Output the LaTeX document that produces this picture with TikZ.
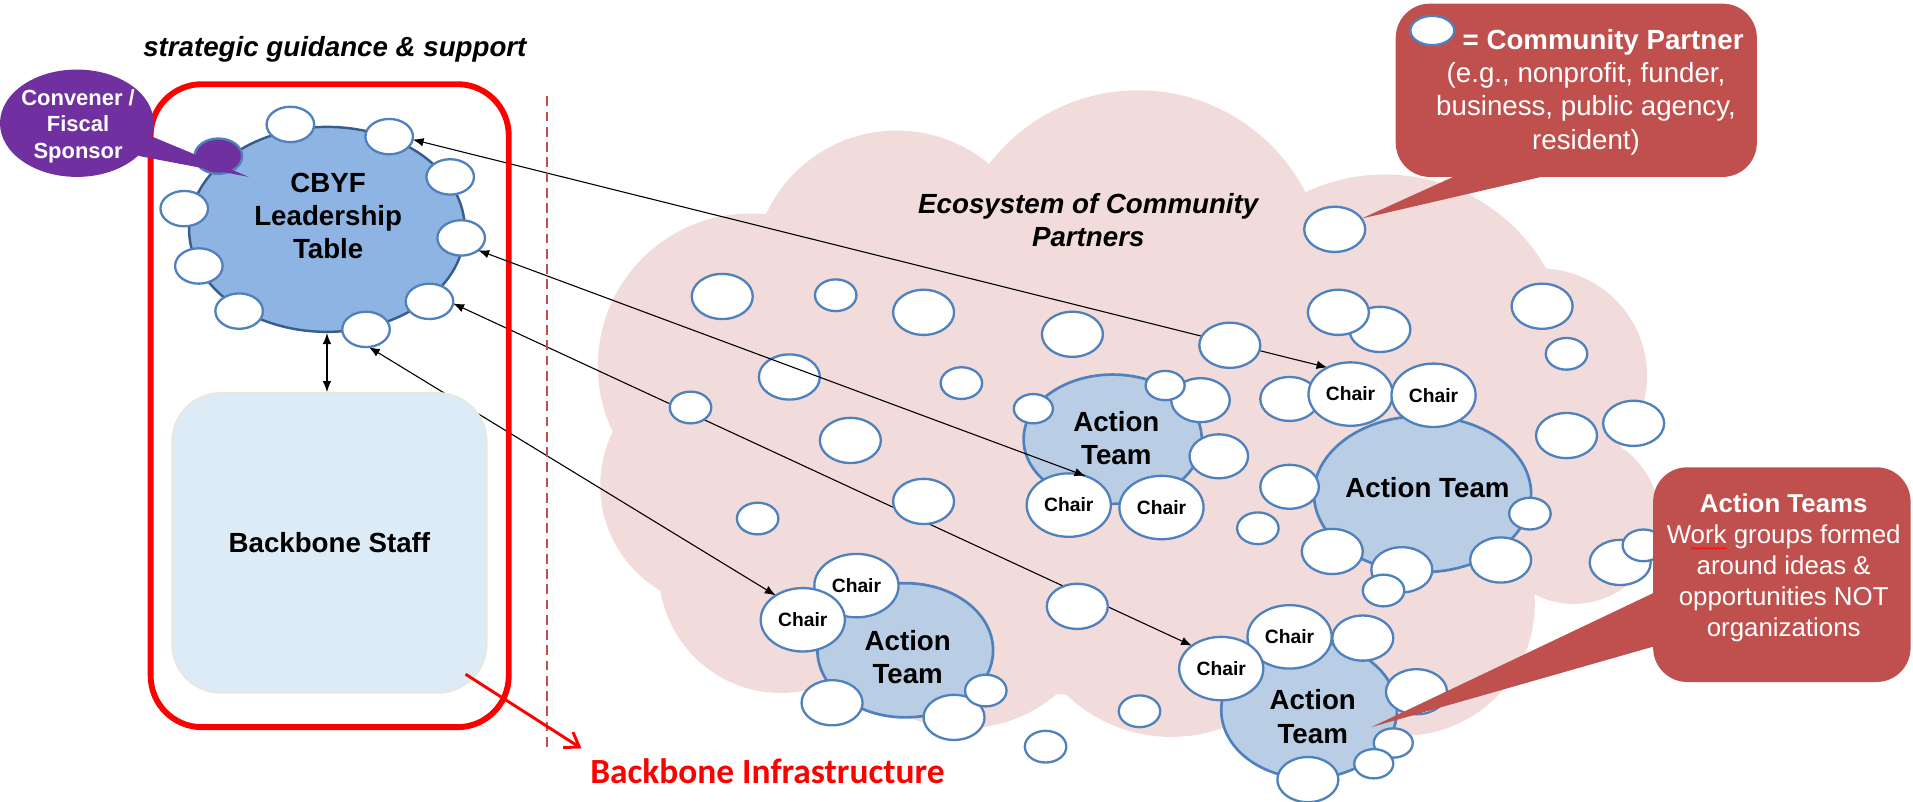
\documentclass[tikz,border=0pt]{standalone}
\usepackage{fontspec}
\setmainfont{Liberation Sans}
\newfontfamily\calibrifont{Carlito}
\usetikzlibrary{shapes.geometric,arrows.meta,decorations.pathmorphing}
\pgfdeclarelayer{cloud}
\pgfdeclarelayer{links}
\pgfsetlayers{cloud,links,main}

\definecolor{cloudpink}{HTML}{F2DCDB}
\definecolor{bubbleblue}{HTML}{4F81BD}
\definecolor{teamfill}{HTML}{B9CDE5}
\definecolor{leadfill}{HTML}{8DB4E2}
\definecolor{leadline}{HTML}{385D8A}
\definecolor{staffill}{HTML}{DDEBF7}
\definecolor{staffline}{HTML}{E9E7DA}
\definecolor{calloutred}{HTML}{C0504D}
\definecolor{convpurple}{HTML}{7030A0}

\tikzset{
  bub/.style={ellipse, draw=bubbleblue, line width=1.9pt, fill=white, inner sep=0pt, outer sep=0pt},
  bl/.style={bub, minimum width=50pt, minimum height=37pt},
  bm/.style={bub, minimum width=48pt, minimum height=36pt},
  bs/.style={bub, minimum width=34pt, minimum height=26pt},
  bt/.style={bub, minimum width=32pt, minimum height=24pt},
  bc/.style={bub, minimum width=39pt, minimum height=29pt},
  chair/.style={bub, minimum width=69pt, minimum height=52pt, font=\bfseries\fontsize{15.8}{19}\selectfont},
  team/.style={ellipse, draw=bubbleblue, line width=2.2pt, fill=teamfill, inner sep=0pt},
  lbl/.style={inner sep=0pt, align=center, font=\bfseries\fontsize{22.7}{27.3}\selectfont},
  conn/.style={line width=0.9pt, {Latex[length=9pt,width=7pt]}-{Latex[length=9pt,width=7pt]}},
  callout/.style={fill=calloutred, draw=none, rectangle, rounded corners=28pt, inner sep=0pt},
}

\begin{document}
\begin{tikzpicture}[x=1pt,y=-1pt]
\useasboundingbox (0,0) rectangle (1568,657);

% ---------- ecosystem cloud ----------
\begin{pgfonlayer}{cloud}
  \fill[cloudpink]
    (615,300) circle [radius=125]
    (592,398) circle [radius=100]
    (640,468) circle [radius=100]
    (790,480) circle [radius=117]
    (960,480) circle [radius=124]
    (1150,495) circle [radius=108]
    (1290,425) circle [radius=70]
    (1262,308) circle [radius=88]
    (1135,295) circle [radius=152]
    (933,228) circle [radius=154]
    (735,225) circle [radius=118]
    (900,400) ellipse [x radius=330, y radius=170];
  \node[bl] (p4) at (647,309) {};
\end{pgfonlayer}

% ---------- backbone infrastructure ----------
\node[draw=red, line width=4.8pt, rectangle, rounded corners=42pt,
      minimum width=293.5pt, minimum height=527pt, inner sep=0pt] (frame) at (270.25,332.5) {};
\draw[calloutred, line width=1.6pt, dash pattern=on 8pt off 4.5pt] (448,79) -- (448,615);

\node[rectangle, rounded corners=40pt, fill=staffill, draw=staffline, line width=1.2pt,
      minimum width=258pt, minimum height=246pt, inner sep=0pt,
      font=\bfseries\fontsize{22.7}{27.3}\selectfont] (staff) at (270,445) {Backbone Staff};

\node[ellipse, fill=leadfill, draw=leadline, line width=2pt,
      minimum width=226pt, minimum height=168pt, inner sep=0pt] (lead) at (268,188) {};

% partners seated at the leadership table
\node[bc] (c1) at (238,102) {};
\node[bc] (c2) at (319,112) {};
\node[bc] (c3) at (369,145) {};
\node[bc] (c4) at (378,195) {};
\node[bc] (c5) at (352,247) {};
\node[bc] (c6) at (300,270) {};
\node[bc] (c7) at (196,255) {};
\node[bc] (c8) at (163,218) {};
\node[bc] (c9) at (151,171) {};
\node[bc, fill=convpurple] (c10) at (179,128) {};

\node[lbl] (leadtxt) at (269,177) {CBYF\\Leadership\\Table};

\draw[conn] (lead.south) -- (lead.south |- staff.north);

% convener callout
\node[ellipse, fill=convpurple, minimum width=126pt, minimum height=88pt, inner sep=0pt] (conv) at (63,101) {};
\coordinate (convtip) at (204,145);
\fill[convpurple] (conv.-10) -- (convtip) -- (conv.-28) -- cycle;
\node[lbl, text=white, font=\bfseries\fontsize{18}{22}\selectfont] (convtxt) at (64,103.5) {Convener /\\Fiscal\\Sponsor};

\node[lbl, anchor=base, font=\bfseries\itshape\fontsize{22.7}{27.3}\selectfont] (title) at (274.5,46.5) {strategic guidance \& support};

\node[inner sep=0pt, anchor=base, text=red, font=\calibrifont\bfseries\fontsize{29}{35}\selectfont] (infra) at (629,642) {Backbone Infrastructure};
\draw[red, line width=2.4pt, -{Straight Barb[length=11pt,width=15pt]}]
  ([shift={(-18,-16)}]staff.south east) -- ([shift={(-7,-8)}]infra.north west);

% ---------- community partners in the cloud ----------
\node[bl] (p1) at (592,243) {};
\node[bs] (p2) at (685,242) {};
\node[bl] (p3) at (757,256) {};
\node[bs] (p5) at (788,314) {};
\node[bs] (p6) at (566,334) {};
\node[bl] (p7) at (697,361) {};
\node[bl] (p8) at (757,411) {};
\node[bs] (p9) at (621,425) {};
\node[bl] (p10) at (879,274) {};
\node[bl] (p11) at (1008,283) {};
\node[bl] (p12) at (1094,188) {};
\node[bl] (p13) at (1131,270) {};
\node[bl] (p14) at (1097,256) {};
\node[bl] (p15) at (1264,251) {};
\node[bs] (p16) at (1284,290) {};
\node[bl] (p17) at (1339,347) {};
\node[bl] (p18) at (1284,357) {};
\node[bl] (p19) at (883,497) {};
\node[bs] (p20) at (934,583) {};
\node[bs] (p21) at (857,612) {};
\node[bs] (p22) at (1031,433) {};

% middle action team
\node[team, minimum width=146pt, minimum height=106pt] (tm) at (912,360) {};
\node[bt] (mb1) at (847,335) {};
\node[bm] (mb2) at (984,328) {};
\node[bt] (mb3) at (955,316) {};
\node[bm] (mb4) at (999,374) {};
\node[chair] (mc1) at (876,414) {Chair};
\node[chair] (mc2) at (952,416) {Chair};
\node[lbl] (tmtxt) at (915,359.3) {Action\\Team};

% right action team
\node[team, minimum width=178pt, minimum height=128pt] (tr) at (1166,405) {};
\node[bm] (rb1) at (1057,327) {};
\node[bm] (rb2) at (1057,399) {};
\node[bl] (rb3) at (1092,452) {};
\node[bl] (rb4) at (1149,467) {};
\node[bs] (rb5) at (1134,484) {};
\node[bl] (rb6) at (1230,459) {};
\node[bs] (rb7) at (1254,421) {};
\node[bl] (rb8) at (1328,461) {};
\node[bs] (rb9) at (1347,447) {};
\node[chair] (rc1) at (1107,323) {Chair};
\node[chair] (rc2) at (1175,324) {Chair};
\node[lbl, anchor=base] (trtxt) at (1170,408) {Action Team};

% lower-left action team
\node[team, minimum width=144pt, minimum height=110pt] (tl) at (742,533) {};
\node[bl] (lb1) at (682,576) {};
\node[bl] (lb2) at (782,588) {};
\node[bs] (lb3) at (808,566) {};
\node[chair] (lcA) at (702,480) {Chair};
\node[chair] (lcB) at (658,508) {Chair};
\node[lbl] (tltxt) at (744,538.4) {Action\\Team};

% lower-right action team
\node[team, minimum width=144pt, minimum height=112pt] (td) at (1073,582) {};
\node[bl] (db1) at (1117,523) {};
\node[bl] (db2) at (1161,567) {};
\node[bt] (db3) at (1142,609) {};
\node[bt] (db4) at (1126,626) {};
\node[bl] (db5) at (1072,639) {};
\node[chair] (dcA) at (1057,522) {Chair};
\node[chair] (dcB) at (1001,548) {Chair};
\node[lbl] (tdtxt) at (1076,587.4) {Action\\Team};

\node[lbl, font=\bfseries\itshape\fontsize{22.7}{27.3}\selectfont] (eco) at (892,180.3) {Ecosystem of Community\\Partners};

% ---------- links between the table and the teams ----------
\begin{pgfonlayer}{links}
  \draw[conn] (c2.-7) -- (rc1.131);
  \draw[conn] (c5.-5) -- (dcB.142);
  \draw[conn] (c6.-81) -- (lcB.138);
\end{pgfonlayer}
\draw[conn] (c4.-36) -- (mc1.60);

% ---------- callouts ----------
\node[callout, minimum width=296pt, minimum height=142pt] (cpbox) at (1292,74) {};
\fill[calloutred] ([shift={(49,-1)}]cpbox.south west) -- (p12.22) -- ([shift={(123,-1)}]cpbox.south west) -- cycle;
\node[bub, minimum width=36pt, minimum height=24pt] (icon) at (1174,25) {};
\node[lbl, text=white, font=\fontsize{22.7}{27.3}\selectfont] (cptxt) at (1300,75.3)
  {\hspace*{28pt}\textbf{= Community Partner}\\(e.g., nonprofit, funder,\\business, public agency,\\resident)};

\node[callout, minimum width=211pt, minimum height=176pt] (atbox) at (1460.5,471) {};
\coordinate (attip) at (1124,596);
\fill[calloutred] ([shift={(1,103)}]atbox.north west) -- (attip) -- ([shift={(1,147)}]atbox.north west) -- cycle;
\node[lbl, text=white, font=\fontsize{21.2}{25.5}\selectfont] (attxt) at (1462,465.6)
  {\textbf{Action Teams}\\Work groups formed\\around ideas \&\\opportunities NOT\\organizations};
\draw[red, line width=0.6pt, decorate, decoration={snake, amplitude=0.8pt, segment length=3pt}]
  (1386,449.5) -- (1415,449.5);

\end{tikzpicture}
\end{document}
